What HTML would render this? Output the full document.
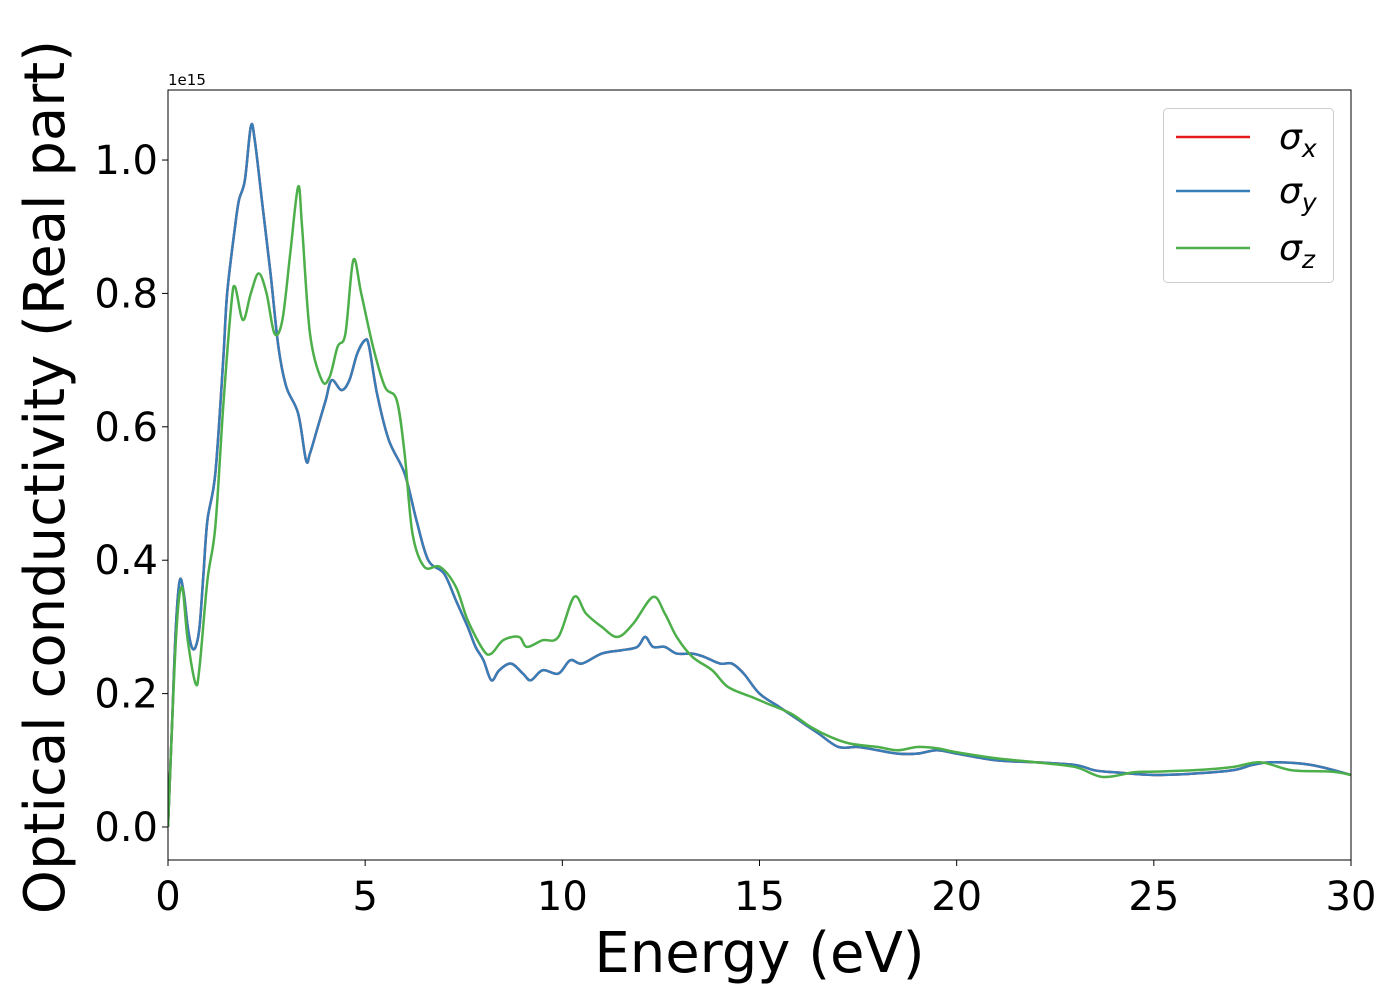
<!DOCTYPE html>
<html><head><meta charset="utf-8"><style>
body{margin:0;background:#fff}
svg text{font-family:"DejaVu Sans","Liberation Sans",sans-serif}
</style></head><body>
<svg id="chart" width="1400" height="1000" xmlns="http://www.w3.org/2000/svg">
<rect width="1400" height="1000" fill="#fff"/>
<g id="plot"></g>
<g id="axes"></g>
</svg>
<script>
const xTicks=[0,5,10,15,20,25,30];
const yTicks=[0.0,0.2,0.4,0.6,0.8,1.0];
const yTickLabels=["0.0","0.2","0.4","0.6","0.8","1.0"];
const energyXY=[0,0.1,0.2,0.3,0.4,0.5,0.6,0.7,0.8,0.9,1.0,1.2,1.4,1.5,1.7,1.8,1.95,2.1,2.2,2.4,2.6,2.8,3.0,3.3,3.5,3.6,3.8,4.0,4.15,4.4,4.6,4.8,5.0,5.1,5.3,5.6,6.0,6.3,6.6,7.0,7.3,7.6,7.8,8.0,8.2,8.4,8.7,9.0,9.2,9.5,9.9,10.2,10.5,11.0,11.5,11.9,12.1,12.3,12.6,12.9,13.3,13.6,14.0,14.3,14.6,15.0,15.5,16.0,16.5,17.0,17.5,18.0,18.5,19.0,19.5,20,21,22,23,23.5,24,25,26,27,27.5,28,29,30];
const sigmaXY=[0.0,0.15,0.3,0.37,0.35,0.3,0.27,0.27,0.3,0.38,0.46,0.53,0.7,0.8,0.9,0.94,0.97,1.05,1.03,0.93,0.83,0.72,0.66,0.62,0.55,0.56,0.6,0.64,0.67,0.655,0.67,0.71,0.73,0.72,0.65,0.58,0.53,0.46,0.4,0.38,0.34,0.3,0.27,0.25,0.22,0.235,0.245,0.23,0.22,0.235,0.23,0.25,0.245,0.26,0.265,0.27,0.285,0.27,0.27,0.26,0.26,0.255,0.245,0.245,0.23,0.2,0.18,0.16,0.14,0.12,0.12,0.115,0.11,0.11,0.115,0.11,0.1,0.097,0.093,0.085,0.082,0.078,0.08,0.085,0.093,0.097,0.093,0.078];
const energyZ=[0,0.2,0.35,0.5,0.7,0.8,1.0,1.2,1.4,1.6,1.7,1.9,2.1,2.3,2.5,2.7,2.9,3.1,3.3,3.4,3.6,3.9,4.1,4.3,4.5,4.7,4.9,5.2,5.5,5.8,6.0,6.2,6.5,6.9,7.3,7.6,8.0,8.2,8.5,8.9,9.1,9.5,9.9,10.3,10.6,11.0,11.4,11.8,12.3,12.6,12.9,13.3,13.8,14.2,14.8,15.2,15.8,16.3,16.8,17.3,18,18.5,19,19.5,20,21,22,23,23.7,24.5,25,26,27,27.7,28.5,29.5,30];
const sigmaZ=[0,0.28,0.36,0.28,0.215,0.24,0.37,0.45,0.63,0.78,0.81,0.76,0.8,0.83,0.8,0.74,0.76,0.86,0.96,0.9,0.74,0.67,0.675,0.72,0.74,0.85,0.8,0.72,0.66,0.64,0.56,0.44,0.39,0.39,0.36,0.31,0.265,0.26,0.28,0.285,0.27,0.28,0.285,0.345,0.32,0.3,0.285,0.305,0.345,0.32,0.285,0.255,0.235,0.21,0.195,0.185,0.17,0.15,0.135,0.125,0.12,0.115,0.12,0.118,0.112,0.103,0.097,0.09,0.075,0.082,0.083,0.085,0.09,0.097,0.085,0.083,0.078];

const L=168,R=1351,T=90,B=860,xmin=0,xmax=30,ymin=-0.0495,ymax=1.105;
const sx=v=>L+(v-xmin)/(xmax-xmin)*(R-L);
const sy=v=>B-(v-ymin)/(ymax-ymin)*(B-T);
const NS="http://www.w3.org/2000/svg";
const plot=document.getElementById('plot'),axes=document.getElementById('axes');
function mk(tag,attrs,parent){const e=document.createElementNS(NS,tag);for(const k in attrs)e.setAttribute(k,attrs[k]);parent.appendChild(e);return e;}
function pathFor(xs,ys){
  const p=xs.map((x,i)=>[sx(x),sy(ys[i])]);
  let d="M"+p[0][0]+","+p[0][1];
  for(let i=0;i<p.length-1;i++){
    const p0=p[Math.max(0,i-1)],p1=p[i],p2=p[i+1],p3=p[Math.min(p.length-1,i+2)];
    const c1=[p1[0]+(p2[0]-p0[0])/6,p1[1]+(p2[1]-p0[1])/6],c2=[p2[0]-(p3[0]-p1[0])/6,p2[1]-(p3[1]-p1[1])/6];
    d+=`C${c1[0]},${c1[1]} ${c2[0]},${c2[1]} ${p2[0]},${p2[1]}`;
  }
  return d;
}
const clip=mk('clipPath',{id:'cp'},plot);mk('rect',{x:L,y:T,width:R-L,height:B-T},clip);
const sxl=mk('path',{d:pathFor(energyXY,sigmaXY),fill:'none',stroke:'#e41a1c','stroke-width':2.5,'clip-path':'url(#cp)'},plot);

const syl=mk('path',{d:pathFor(energyXY,sigmaXY),fill:'none',stroke:'#377eb8','stroke-width':2.5,'clip-path':'url(#cp)'},plot);

const szl=mk('path',{d:pathFor(energyZ,sigmaZ),fill:'none',stroke:'#4daf4a','stroke-width':2.5,'clip-path':'url(#cp)'},plot);


const frame=mk('rect',{x:L,y:T,width:R-L,height:B-T,fill:'none',stroke:'#000','stroke-width':1},axes);

xTicks.forEach(v=>{
  mk('line',{x1:sx(v),x2:sx(v),y1:B,y2:B+6,stroke:'#000'},axes);
  const t=mk('text',{x:sx(v),y:B+50,'font-size':40,'text-anchor':'middle'},axes);t.textContent=v;
  
});
yTicks.forEach((v,i)=>{
  mk('line',{x1:L-6,x2:L,y1:sy(v),y2:sy(v),stroke:'#000'},axes);
  const t=mk('text',{x:L-10,y:sy(v)+14,'font-size':40,'text-anchor':'end'},axes);t.textContent=yTickLabels[i];
  
});
const off=mk('text',{x:168,y:85,'font-size':15},axes);off.textContent='1e15';

const xt=mk('text',{x:(L+R)/2,y:972,'font-size':56,'text-anchor':'middle'},axes);xt.textContent='Energy (eV)';

const yt=mk('text',{x:0,y:0,'font-size':56,'text-anchor':'middle',transform:`translate(64,${(T+B)/2+2}) rotate(-90)`},axes);yt.textContent='Optical conductivity (Real part)';


const lg=mk('g',{},axes);

mk('rect',{x:1163.5,y:108.5,width:170,height:174,rx:4,fill:'#fff','fill-opacity':0.8,stroke:'#ccc'},lg);
const ents=[['#e41a1c','x',137],['#377eb8','y',191],['#4daf4a','z',248]];
ents.forEach(e=>{
  const g=mk('g',{},lg);
  
  mk('line',{x1:1176,x2:1250,y1:e[2],y2:e[2],stroke:e[0],'stroke-width':2.5},g);
  const t=mk('text',{x:1279,y:e[2]+12,'font-size':36,'font-style':'italic'},g);
  t.innerHTML='σ<tspan font-size="25" dy="8">'+e[1]+'</tspan>';
});
</script>
</body></html>
